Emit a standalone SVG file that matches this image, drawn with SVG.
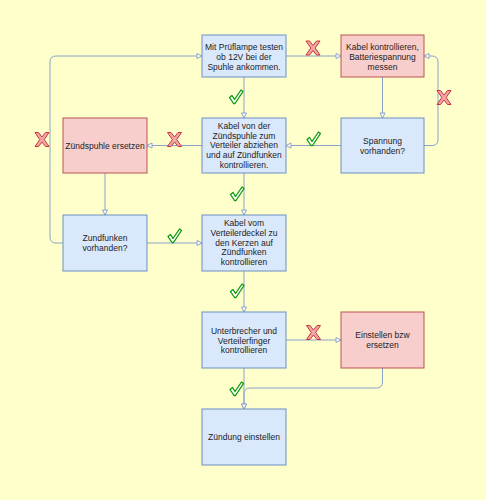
<svg xmlns="http://www.w3.org/2000/svg" width="486" height="500" viewBox="0 0 486 500">
<style>
.bg{fill:#ffffcc}
.blue{fill:#dae8fc;stroke:#6c8ebf;stroke-width:1}
.red{fill:#f8cecc;stroke:#b85450;stroke-width:1}
.conn{fill:none;stroke:#8aa2cc;stroke-width:1;marker-end:url(#arr)}
.t{font-family:"Liberation Sans",Arial,sans-serif;font-size:8.5px;fill:#222;text-anchor:middle}
.xm{fill:#f2a7a7;stroke:#c9343a;stroke-width:1;stroke-linejoin:miter}
.ck{fill:#ffffff;stroke:#0a9a0a;stroke-width:1.3;stroke-linejoin:round}
</style>
<defs>
<marker id="arr" markerUnits="userSpaceOnUse" markerWidth="8" markerHeight="8" refX="6.5" refY="4" orient="auto">
<path d="M1.5,1.5 L6.5,4 L1.5,6.5 Z" fill="#ffffff" stroke="#8aa2cc" stroke-width="1"/>
</marker>
<g id="xmark"><polygon class="xm" points="-7,-7 -3.5,-7 0,-2.5 3.5,-7 7,-7 2.2,0 7,7 3.5,7 0,2.5 -3.5,7 -7,7 -2.2,0"/></g>
<g id="check"><polygon class="ck" points="-6.5,0.5 -4,-1.5 -1.5,2.5 5,-7 7,-5.5 -1,6.5 -2.5,6.5"/></g>
</defs>
<rect class="bg" x="0" y="0" width="486" height="500"/>

<g id="connectors">
<path class="conn" d="M286,56 H341"/>
<path class="conn" d="M382.5,77 V118"/>
<path class="conn" d="M424,145.5 H432 Q438,145.5 438,139.5 V62 Q438,56 432,56 H424"/>
<path class="conn" d="M341,145.5 H286"/>
<path class="conn" d="M244,77 V118"/>
<path class="conn" d="M202,145.5 H147"/>
<path class="conn" d="M105,173 V215"/>
<path class="conn" d="M63,243 H56 Q50,243 50,237 V62 Q50,56 56,56 H202"/>
<path class="conn" d="M147,243 H202"/>
<path class="conn" d="M244,173 V215"/>
<path class="conn" d="M244,271 V312"/>
<path class="conn" d="M286,340 H341"/>
<path class="conn" d="M244,368 V409"/>
<path class="conn" d="M382.5,368 V382 Q382.5,388 376.5,388 H250 Q244,388 244,394 V409"/>
</g>

<g id="marks">
<use href="#xmark" x="313" y="48"/>
<use href="#xmark" x="444" y="97.5"/>
<use href="#xmark" x="42" y="139.5"/>
<use href="#xmark" x="174.5" y="139.5"/>
<use href="#xmark" x="313.5" y="332.5"/>
<use href="#check" x="236" y="97"/>
<use href="#check" x="313.5" y="139"/>
<use href="#check" x="237" y="194"/>
<use href="#check" x="174.5" y="236"/>
<use href="#check" x="237" y="291"/>
<use href="#check" x="236.5" y="389"/>
</g>

<g id="n1">
<rect class="blue" x="202" y="35" width="84" height="42"/>
<text class="t" x="244"><tspan x="244" y="49.5">Mit Prüflampe testen</tspan><tspan x="244" y="59.8">ob 12V bei der</tspan><tspan x="244" y="70">Spuhle ankommen.</tspan></text>
</g>
<g id="n2">
<rect class="red" x="341" y="35" width="83" height="42"/>
<text class="t"><tspan x="382.5" y="49.5">Kabel kontrollieren,</tspan><tspan x="382.5" y="59.8">Batteriespannung</tspan><tspan x="382.5" y="70">messen</tspan></text>
</g>
<g id="n3">
<rect class="blue" x="341" y="118" width="83" height="55"/>
<text class="t"><tspan x="382.5" y="143.5">Spannung</tspan><tspan x="382.5" y="153.5">vorhanden?</tspan></text>
</g>
<g id="n4">
<rect class="blue" x="202" y="118" width="84" height="55"/>
<text class="t"><tspan x="244" y="129">Kabel von der</tspan><tspan x="244" y="138.7">Zündspuhle zum</tspan><tspan x="244" y="148.4">Verteiler abziehen</tspan><tspan x="244" y="158.1">und auf Zündfunken</tspan><tspan x="244" y="167.8">kontrollieren.</tspan></text>
</g>
<g id="n5">
<rect class="red" x="63" y="118" width="84" height="55"/>
<text class="t"><tspan x="105" y="148.7">Zündspuhle ersetzen</tspan></text>
</g>
<g id="n6">
<rect class="blue" x="63" y="215" width="84" height="56"/>
<text class="t"><tspan x="105" y="241">Zundfunken</tspan><tspan x="105" y="250.7">vorhanden?</tspan></text>
</g>
<g id="n7">
<rect class="blue" x="202" y="215" width="84" height="56"/>
<text class="t"><tspan x="244" y="226.3">Kabel vom</tspan><tspan x="244" y="236">Verteilerdeckel zu</tspan><tspan x="244" y="245.7">den Kerzen auf</tspan><tspan x="244" y="255.4">Zündfunken</tspan><tspan x="244" y="265.1">kontrollieren</tspan></text>
</g>
<g id="n8">
<rect class="blue" x="202" y="312" width="84" height="56"/>
<text class="t"><tspan x="244" y="333.7">Unterbrecher und</tspan><tspan x="244" y="343.5">Verteilerfinger</tspan><tspan x="244" y="353.3">kontrollieren</tspan></text>
</g>
<g id="n9">
<rect class="red" x="341" y="312" width="83" height="56"/>
<text class="t"><tspan x="382.5" y="338">Einstellen bzw</tspan><tspan x="382.5" y="347.5">ersetzen</tspan></text>
</g>
<g id="n10">
<rect class="blue" x="202" y="409" width="84" height="56"/>
<text class="t"><tspan x="244" y="440.3">Zündung einstellen</tspan></text>
</g>
</svg>
